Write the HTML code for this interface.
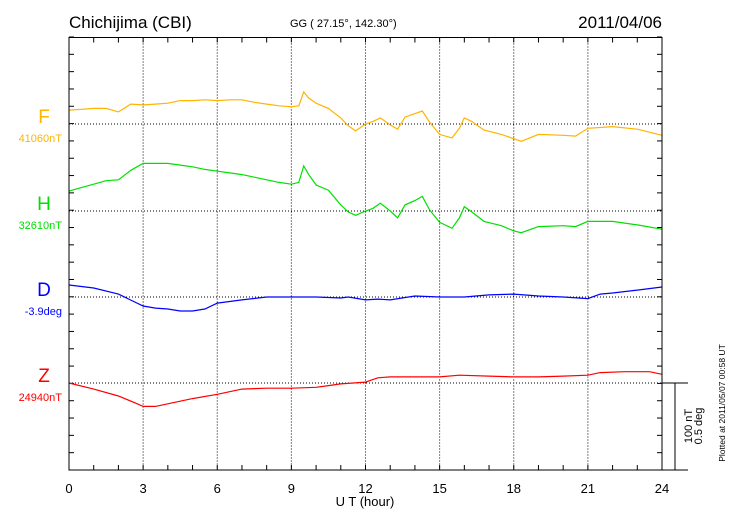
<!DOCTYPE html>
<html><head><meta charset="utf-8"><style>
body{margin:0;background:#fff;}
svg{display:block;font-family:"Liberation Sans",sans-serif;}
</style></head><body>
<svg id="chart" width="730" height="520" viewBox="0 0 730 520">
<text x="69" y="28" font-size="17">Chichijima (CBI)</text>
<text x="290" y="27" font-size="11">GG ( 27.15°, 142.30°)</text>
<text x="662" y="28" font-size="17" text-anchor="end">2011/04/06</text>
<g id="grid"></g>
<g id="series"></g>
<rect x="69" y="37.5" width="593" height="432.5" fill="none" stroke="#000" stroke-width="1"/>
<text x="365" y="506" font-size="13" text-anchor="middle">U T (hour)</text>
<line x1="662" y1="383" x2="688" y2="383" stroke="#000"/>
<line x1="662" y1="470" x2="688" y2="470" stroke="#000"/>
<line x1="675" y1="383" x2="675" y2="470" stroke="#000"/>
<text transform="translate(692,426) rotate(-90)" font-size="11" text-anchor="middle">100 nT</text>
<text transform="translate(702,426) rotate(-90)" font-size="11" text-anchor="middle">0.5 deg</text>
<text transform="translate(725,403) rotate(-90)" font-size="8.5" text-anchor="middle">Plotted at 2011/05/07 00:58 UT</text>
</svg>
<script>
const xTicks=[0,3,6,9,12,15,18,21,24];
const fHours=[0,0.5,1,1.5,2,2.5,3,3.5,4,4.5,5,5.5,6,6.5,7,7.5,8,8.5,9,9.3,9.5,9.7,10,10.5,11,11.3,11.6,12,12.3,12.6,13,13.3,13.6,14,14.3,14.6,15,15.5,15.8,16,16.3,16.8,17.5,18,18.3,19,20,20.5,21,22,23,24];
const fValues=[16,17,18,18,14,23,22,23,24,27,27,28,27,28,28,25,23,21,20,21,37,30,24,18,7,-2,-8,0,3,7,-1,-6,8,12,15,2,-12,-16,-5,7,3,-7,-12,-17,-20,-12,-13,-14,-5,-3,-6,-13];
const hValues=[23,27,31,35,36,47,55,55,55,53,51,48,46,44,42,39,36,33,31,33,52,42,30,24,7,-1,-5,0,3,9,0,-8,7,12,17,1,-13,-20,-8,5,-1,-12,-17,-23,-25,-18,-17,-18,-12,-12,-16,-21];
const dHours=[0,1,2,3,3.5,4,4.5,5,5.5,6,7,8,9,10,11,11.3,12,12.5,13,14,15,16,17,18,19,20,21,21.5,22,23,24];
const dValues=[0.069,0.052,0.017,-0.052,-0.064,-0.069,-0.081,-0.081,-0.069,-0.035,-0.017,0,0,0,-0.006,0,-0.017,-0.012,-0.017,0.006,0,0,0.012,0.017,0.006,0,-0.009,0.017,0.023,0.04,0.058];
const zHours=[0,1,2,2.6,3,3.5,4,5,6,7,8,9,10,10.5,11,12,12.5,13,14,15,15.8,17,18,19,20,21,21.5,22.5,23.5,24];
const zValues=[0,-7,-15,-22,-27,-27,-24,-18,-13,-7,-6,-6,-5,-3,-1,1,6,7,7,7,9,8,7,7,8,9,12,13,13,10];
const components=['F','H','D','Z'];
const baseLabels=['41060nT','32610nT','-3.9deg','24940nT'];
const colors=['#ffb400','#00e000','#0000ff','#ff0000'];

const NS='http://www.w3.org/2000/svg';
const X0=69,X1=662,Y0=37.5,Y1=470;
const baselines=[124,211,297,383];
const pxPerNT=86.6/100, pxPerDeg=86.6/0.5;
const xs=h=>X0+(X1-X0)*h/24;
function mk(tag,attrs,parent){const e=document.createElementNS(NS,tag);for(const k in attrs)e.setAttribute(k,attrs[k]);parent.appendChild(e);return e;}
const grid=document.getElementById('grid'), ser=document.getElementById('series'), svg=document.getElementById('chart');
for(let h=0;h<=24;h++){
  const x=xs(h);
  const t1=mk('line',{x1:x,y1:Y0,x2:x,y2:Y0+5,stroke:'#000'},grid);
  
  
  const t2=mk('line',{x1:x,y1:Y1,x2:x,y2:Y1-5,stroke:'#000'},grid);
  
  
}
xTicks.forEach(h=>{
  const x=xs(h);
  if(h>0&&h<24){
    const g=mk('line',{x1:x,y1:Y0,x2:x,y2:Y1,stroke:'#000','stroke-dasharray':'1,2','stroke-width':1},grid);
    
    
  }
  const t=mk('text',{x:x,y:493,'font-size':13,'text-anchor':'middle'},svg);
  t.textContent=h;
  
  
});
for(let i=0;i<=25;i++){
  const y=Y1-i*86.6/5;
  const a=mk('line',{x1:X0,y1:y,x2:X0+5,y2:y,stroke:'#000'},grid);
  
  
  const b=mk('line',{x1:X1,y1:y,x2:X1-5,y2:y,stroke:'#000'},grid);
  
  
}
const hoursArr=[fHours,fHours,dHours,zHours];
const valsArr=[fValues,hValues,dValues,zValues];
components.forEach((c,i)=>{
  const yb=baselines[i];
  const g=mk('line',{x1:X0,y1:yb,x2:X1,y2:yb,stroke:'#000','stroke-dasharray':'1,2'},grid);
  
  
  const k=c==='D'?pxPerDeg:pxPerNT;
  const pts=hoursArr[i].map((h,j)=>xs(h).toFixed(1)+','+(yb-valsArr[i][j]*k).toFixed(1)).join(' ');
  const p=mk('polyline',{points:pts,fill:'none',stroke:colors[i],'stroke-width':1.2},ser);
  
  
  const l=mk('text',{x:44,y:yb-1,'font-size':19,'text-anchor':'middle',fill:colors[i]},svg);
  l.textContent=c;
  
  
  const s=mk('text',{x:62,y:yb+18,'font-size':11,'text-anchor':'end',fill:colors[i]},svg);
  s.textContent=baseLabels[i];
  
  
});
</script>
</body></html>
